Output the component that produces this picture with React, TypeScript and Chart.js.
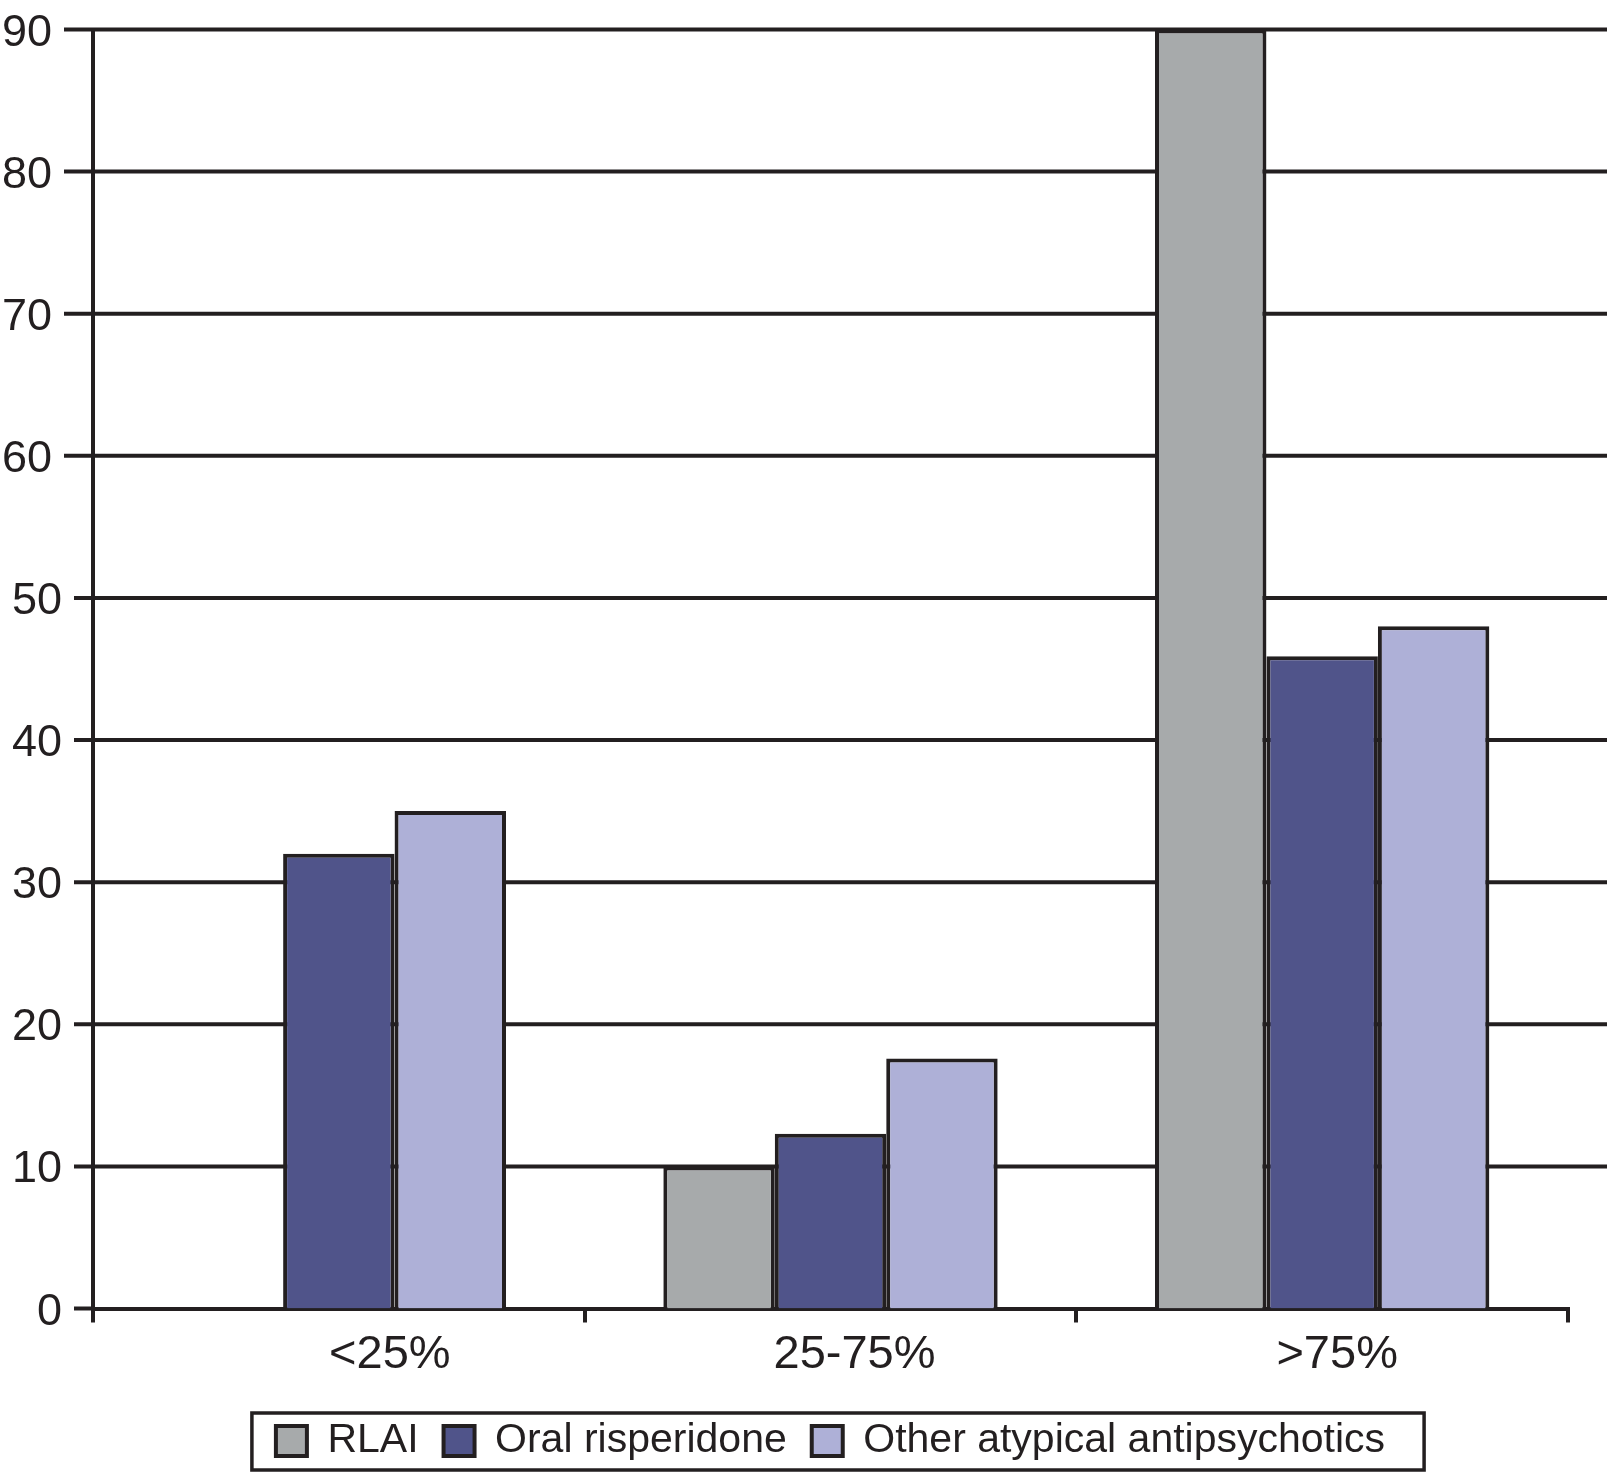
import React, { useEffect, useRef } from "react";
import { Chart, registerables } from "chart.js";

Chart.register(...registerables);

const categories = ["<25%", "25-75%", ">75%"];
const seriesNames = ["RLAI", "Oral risperidone", "Other atypical antipsychotics"];
const rlaiValues = [null, 10, 90];
const oralValues = [32.0, 12.3, 45.9];
const otherValues = [35.0, 17.6, 48.0];
const seriesColors = ["#a7aaab", "#50548a", "#aeb0d7"];
const yMin = 0;
const yMax = 90;
const yStep = 10;

// category label nudges (the source labels sit right of the category centres)
const xLabelNudge = [51, 24, 15];

const INK = "#231f20";
const FONT = "'Liberation Sans', Arial, Helvetica, sans-serif";
const LINE = 4;

const axisPlugin = {
  id: "extAxis",
  beforeDatasetsDraw(chart: any) {
    const { ctx, chartArea, scales } = chart;
    const y = scales.y;
    ctx.save();
    ctx.strokeStyle = INK;
    ctx.lineWidth = LINE;
    ctx.fillStyle = INK;
    ctx.font = `45px ${FONT}`;
    ctx.textAlign = "right";
    ctx.textBaseline = "alphabetic";
    y.ticks.forEach((t: any) => {
      const py = y.getPixelForValue(t.value);
      const stubLeft = chartArea.left - (t.value <= 50 ? 19 : 29);
      ctx.beginPath();
      ctx.moveTo(stubLeft, py);
      ctx.lineTo(t.value === 0 ? chartArea.left : chartArea.right + 39, py);
      ctx.stroke();
      ctx.fillText(String(t.value), stubLeft - 12, py + 16);
    });
    ctx.restore();
  },
  afterDatasetsDraw(chart: any) {
    const { ctx, scales } = chart;
    const x = scales.x;
    ctx.save();
    ctx.fillStyle = INK;
    ctx.font = `47px ${FONT}`;
    ctx.textAlign = "center";
    ctx.textBaseline = "alphabetic";
    categories.forEach((c, i) => {
      ctx.fillText(c, x.getPixelForValue(i) + xLabelNudge[i], x.top + 59);
    });
    ctx.restore();
  },
};

const legendBoxPlugin = {
  id: "legendBox",
  afterDraw(chart: any) {
    const legend = chart.legend;
    if (!legend || !legend.legendHitBoxes || !legend.legendHitBoxes.length) return;
    const hb = legend.legendHitBoxes;
    const left = Math.min(...hb.map((h: any) => h.left)) - 24;
    const right = Math.max(...hb.map((h: any) => h.left + h.width)) + 39;
    const cy = hb[0].top + hb[0].height / 2;
    const { ctx } = chart;
    ctx.save();
    ctx.strokeStyle = INK;
    ctx.lineWidth = 3.5;
    ctx.strokeRect(left, cy - 28, right - left, 57);
    ctx.restore();
  },
};

export default function App() {
  const ref = useRef<HTMLCanvasElement | null>(null);

  useEffect(() => {
    if (!ref.current) return;
    const values = [rlaiValues, oralValues, otherValues];
    const chart = new Chart(ref.current, {
      type: "bar",
      data: {
        labels: categories,
        datasets: seriesNames.map((name, i) => ({
          label: name,
          data: values[i] as any,
          backgroundColor: seriesColors[i],
          borderColor: INK,
          borderWidth: LINE,
          categoryPercentage: 0.68,
          barPercentage: 1.0,
        })),
      },
      options: {
        animation: false,
        responsive: false,
        devicePixelRatio: 1,
        layout: { padding: { top: 29.5, right: 50, bottom: 4.5, left: 0 } },
        plugins: {
          tooltip: { enabled: false },
          legend: {
            position: "bottom",
            fullSize: false,
            labels: {
              boxWidth: 31,
              boxHeight: 30,
              padding: 25,
              color: INK,
              font: { size: 41, family: FONT },
            },
          },
        },
        scales: {
          x: {
            offset: true,
            grid: {
              display: true,
              drawOnChartArea: false,
              drawTicks: true,
              tickLength: 14,
              color: INK,
              lineWidth: LINE,
              offset: true,
            },
            border: { display: true, color: INK, width: LINE },
            ticks: { display: false },
            afterFit(scale: any) {
              scale.height = 87;
            },
          },
          y: {
            min: yMin,
            max: yMax,
            grid: { display: false },
            border: { display: true, color: INK, width: LINE },
            ticks: { stepSize: yStep, display: false },
            afterFit(scale: any) {
              scale.width = 93;
            },
          },
        },
      },
      plugins: [axisPlugin, legendBoxPlugin],
    });
    return () => chart.destroy();
  }, []);

  return (
    <div
      style={{
        position: "fixed",
        left: 0,
        top: 0,
        width: 1618,
        height: 1476,
        background: "#ffffff",
      }}
    >
      <canvas ref={ref} width={1618} height={1476} />
    </div>
  );
}
